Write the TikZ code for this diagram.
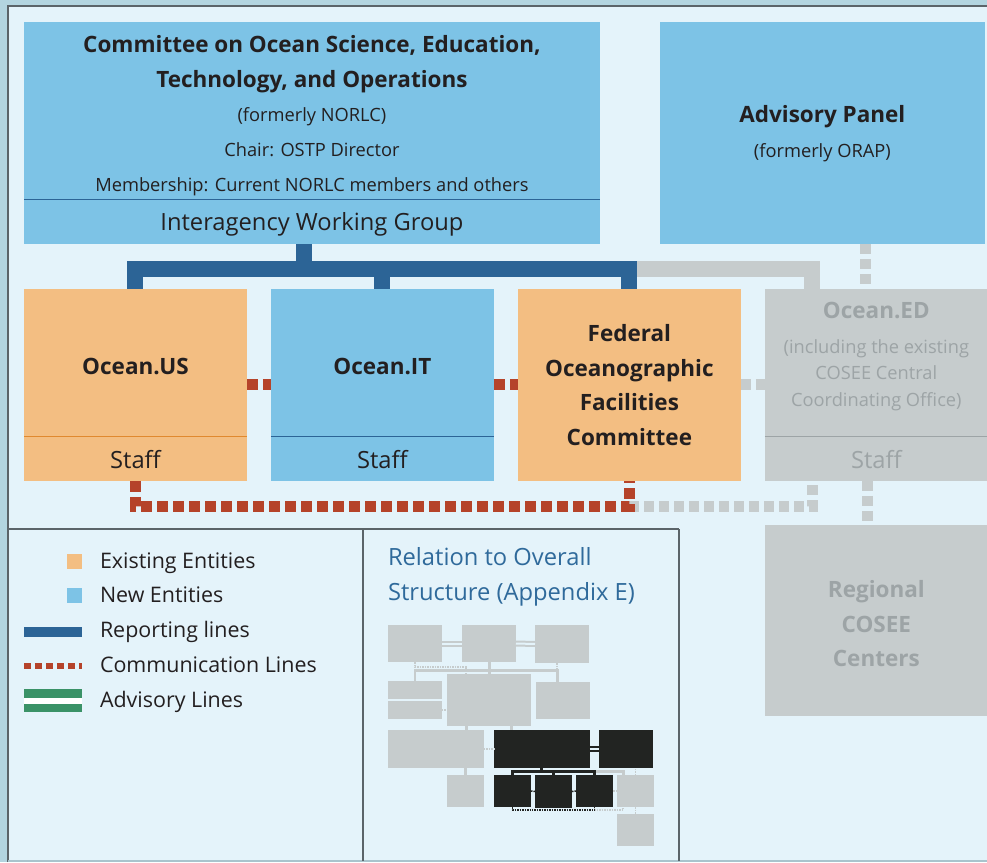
\documentclass[tikz,border=0pt]{standalone}
\usepackage{fontspec}
\setmainfont{Open Sans}
\usetikzlibrary{positioning}

\definecolor{paneledge}{HTML}{B3D5E0}
\definecolor{panelfill}{HTML}{E4F3FA}
\definecolor{newblue}{HTML}{7DC3E6}
\definecolor{oldorange}{HTML}{F3BE82}
\definecolor{oldline}{HTML}{E0892F}
\definecolor{latergray}{HTML}{C6CCCD}
\definecolor{latertext}{HTML}{9DA4A6}
\definecolor{reportblue}{HTML}{2C6496}
\definecolor{commred}{HTML}{B5432A}
\definecolor{advgreen}{HTML}{3A9267}
\definecolor{inkdark}{HTML}{231F20}
\definecolor{headblue}{HTML}{2F6A9B}
\definecolor{minidark}{HTML}{222422}
\definecolor{frameline}{HTML}{5B6469}

\begin{document}
\begin{tikzpicture}[x=0.02cm, y=-0.02cm, node distance=0.48cm,
    every node/.style={inner sep=0pt, outer sep=0pt, text=inkdark},
    entity/.style={rectangle, minimum width=4.46cm, minimum height=3.84cm},
    oldbox/.style={entity, fill=oldorange},
    newbox/.style={entity, fill=newblue},
    laterbox/.style={entity, fill=latergray, text=latertext},
    head/.style={font=\fontsize{12.8}{19.7}\selectfont\bfseries, align=center},
    note/.style={font=\fontsize{10.4}{19.8}\selectfont, align=center},
    staff/.style={font=\fontsize{13.5}{16}\selectfont},
    keytext/.style={font=\fontsize{12.2}{14}\selectfont, anchor=base west},
    report/.style={draw=reportblue, line width=0.32cm},
    reportlater/.style={draw=latergray, line width=0.32cm},
    talk/.style={draw=commred, line width=0.22cm, dash pattern=on 0.22cm off 0.1cm},
    talklater/.style={draw=latergray, line width=0.22cm, dash pattern=on 0.2cm off 0.1cm},
    minibox/.style={fill=latergray, anchor=north west},
    minikey/.style={fill=minidark, anchor=north west},
    minilink/.style={draw=latergray, line width=0.06cm},
    minilinkdark/.style={draw=minidark, line width=0.06cm},
    minidots/.style={draw=latergray, line width=0.03cm, dash pattern=on 0.03cm off 0.02cm},
    minidotsdark/.style={draw=minidark, line width=0.03cm, dash pattern=on 0.03cm off 0.02cm},
    minidouble/.style={draw=latergray, line width=0.04cm, double=panelfill, double distance=0.04cm},
    minidoubledark/.style={draw=minidark, line width=0.04cm, double=panelfill, double distance=0.04cm}]

    \useasboundingbox (0,0) rectangle (987,862);

    % panel and frame
    \fill[paneledge] (0,0) rectangle (987,862);
    \fill[panelfill] (8,6) rectangle (987,861);
    \draw[frameline, line width=1pt] (8,862) -- (8,6) -- (987,6);
    \draw[paneledge!80!gray, line width=0.8pt] (8,861) -- (987,861);

    % Top tier
    \node[fill=newblue, minimum width=11.52cm, minimum height=4.44cm, anchor=north west] (cosetc) at (24,22) {};
    \node[fill=newblue, minimum width=6.5cm, minimum height=4.44cm, right=1.2cm of cosetc.north east, anchor=north west] (adv) {};

    \node[head] (cosetchead) at ([yshift=-0.84cm]cosetc.north) {Committee on Ocean Science, Education,\\Technology, and Operations};
    \node[note] (cosetcnote) at ([yshift=-2.6cm]cosetc.north) {(formerly NORLC)\\Chair: OSTP Director\\Membership: Current NORLC members and others};
    \draw[reportblue, line width=0.6pt] ([yshift=0.88cm]cosetc.south west) -- ([yshift=0.88cm]cosetc.south east);
    \node[staff] (iwg) at ([yshift=0.4cm]cosetc.south) {Interagency Working Group};

    \node[head] (advhead) at ([yshift=0.32cm]adv.center) {Advisory Panel};
    \node[note] (advnote) at ([yshift=-0.4cm]adv.center) {(formerly ORAP)};

    % Second tier
    \node[oldbox, below=0.9cm of cosetc.south west, anchor=north west] (us) {};
    \node[newbox, right=of us] (it) {};
    \node[oldbox, right=of it, head] (fofc) {Federal\\Oceanographic\\Facilities\\Committee};
    \node[laterbox, right=of fofc] (ed) {};
    \node[laterbox, below=0.88cm of ed, minimum height=3.82cm] (rc) {};
    \node[head, text=latertext] (rchead) at ([yshift=-0.07cm]rc.center) {Regional\\COSEE\\Centers};

    \node[head] (ushead) at ([yshift=0.36cm]us.center) {Ocean.US};
    \draw[oldline, line width=0.6pt] ([yshift=0.88cm]us.south west) -- ([yshift=0.88cm]us.south east);
    \node[staff] (usstaff) at ([yshift=0.42cm]us.south) {Staff};

    \node[head] (ithead) at ([yshift=0.36cm]it.center) {Ocean.IT};
    \draw[reportblue, line width=0.6pt] ([yshift=0.88cm]it.south west) -- ([yshift=0.88cm]it.south east);
    \node[staff] (itstaff) at ([yshift=0.42cm]it.south) {Staff};

    \node[head, text=latertext] (edhead) at ([yshift=1.48cm]ed.center) {Ocean.ED};
    \node[note, text=latertext, font=\fontsize{10.4}{15}\selectfont] (ednote) at ([yshift=0.2cm]ed.center) {(including the existing\\COSEE Central\\Coordinating Office)};
    \draw[latertext, line width=0.6pt] ([yshift=0.88cm]ed.south west) -- ([yshift=0.88cm]ed.south east);
    \node[staff, text=latertext] (edstaff) at ([yshift=0.42cm]ed.south) {Staff};

    % Reporting lines
    \draw[reportlater] ([yshift=0.4cm]fofc.north) -| ([xshift=-1.28cm]ed.north);
    \draw[report] (us.north) -- ++(0,-20) -| (fofc.north);
    \draw[report] (it.north) -- ++(0,-20);
    \draw[report] ([xshift=-0.16cm]cosetc.south) -- ++(0,25);

    % Communication and advisory lines
    \draw[talk] (us.east) -- (it.west);
    \draw[talk] (it.east) -- (fofc.west);
    \draw[talklater] (fofc.east) -- (ed.west);
    \draw[talklater] ([yshift=-0.52cm]fofc.south) -| ([xshift=-1.28cm]ed.south);
    \draw[talk] (us.south) -- ++(0,26) -| (fofc.south);
    \draw[talklater] ([xshift=0.87cm]adv.south) -- ([xshift=0.87cm]adv.south |- ed.north);
    \draw[talklater] ([xshift=-0.17cm]ed.south) -- ([xshift=-0.17cm]rc.north);

    % Legend frames
    \draw[frameline, line width=0.7pt] (8,529) -- (679,529);
    \draw[frameline, line width=0.7pt] (363,529) -- (363,861);
    \draw[frameline, line width=0.7pt] (679,529) -- (679,861);

    % Legend keys
    \node[fill=oldorange, minimum size=0.3cm] (keyold) at (74.5,561.5) {};
    \node[fill=newblue, minimum size=0.3cm] (keynew) at (74.5,595) {};
    \draw[reportblue, line width=0.2cm] (24,632) -- (82,632);
    \draw[commred, line width=0.12cm, dash pattern=on 0.14cm off 0.08cm] (24,666) -- (82,666);
    \draw[advgreen, line width=0.17cm, double=white, double distance=0.12cm] (24,700.5) -- (82,700.5);

    \node[keytext] (oldtext) at (100,568) {Existing Entities};
    \node[keytext] (newtext) at (100,602) {New Entities};
    \node[keytext] (reptext) at (100,637) {Reporting lines};
    \node[keytext] (comtext) at (100,672) {Communication Lines};
    \node[keytext] (advtext) at (100,707) {Advisory Lines};

    \node[font=\fontsize{13.5}{19.4}\selectfont, text=headblue, align=left, anchor=base west] (relhead) at (388,600) {Relation to Overall\\Structure (Appendix E)};

    % Overall structure in small
    \node[minibox, minimum width=1.08cm, minimum height=0.74cm] (m1) at (388,625) {};
    \node[minibox, minimum width=1.08cm, minimum height=0.74cm] (m2) at (462,625) {};
    \node[minibox, minimum width=1.08cm, minimum height=0.76cm] (m3) at (535,625) {};
    \node[minibox, minimum width=1.08cm, minimum height=0.36cm] (m4) at (388,681) {};
    \node[minibox, minimum width=1.08cm, minimum height=0.36cm] (m5) at (388,701) {};
    \node[minibox, minimum width=1.68cm, minimum height=1.04cm] (m6) at (447,674) {};
    \node[minibox, minimum width=1.08cm, minimum height=0.74cm] (m7) at (536,682) {};
    \node[minibox, minimum width=1.92cm, minimum height=0.76cm] (m8) at (388,730) {};
    \node[minikey, minimum width=1.92cm, minimum height=0.76cm] (m9) at (494,730) {};
    \node[minikey, minimum width=1.08cm, minimum height=0.76cm] (m10) at (599,730) {};
    \node[minibox, minimum width=0.74cm, minimum height=0.64cm] (m11) at (447,775) {};
    \node[minikey, minimum width=0.74cm, minimum height=0.64cm] (m12) at (494,775) {};
    \node[minikey, minimum width=0.74cm, minimum height=0.66cm] (m13) at (535,775) {};
    \node[minikey, minimum width=0.74cm, minimum height=0.64cm] (m14) at (576,775) {};
    \node[minibox, minimum width=0.74cm, minimum height=0.64cm] (m15) at (617,775) {};
    \node[minibox, minimum width=0.74cm, minimum height=0.64cm] (m16) at (617,814) {};

    \draw[minidouble] (m1.east) -- (m2.west);
    \draw[minidouble] (m2.east) -- (m3.west);
    \draw[minilink] (m2.south) -- (m2.south |- m6.north);
    \draw[minilink] (m4.north) -- ++(0,-11) -| ([xshift=-0.12cm]m7.north);
    \draw[minidots] (m1.south) -- ++(0,5) -| ([xshift=0.38cm]m6.north west);
    \draw[minidots] ([xshift=-0.1cm]m3.south) -- ([xshift=-0.1cm]m3.south |- m7.north);
    \draw[minidots] (m5.east) -- (m5.east -| m6.west);
    \draw[minilink] ([xshift=0.38cm]m6.south west) -- ([xshift=0.38cm]m6.south west |- m8.north);
    \draw[minilink] ([xshift=1.3cm]m6.south west) -- ([xshift=1.3cm]m6.south west |- m9.north);
    \draw[minidots] (m8.east) -- (m9.west);
    \draw[minidoubledark] (m9.east) -- (m10.west);
    \draw[minilink] (m11.north) -- (m11.north |- m8.south);
    \draw[minilink] (m14.north) -- ++(0,-4) -| ([xshift=0.12cm]m15.north west);
    \draw[minilinkdark] (m12.north) -- ++(0,-4) -| (m14.north);
    \draw[minilinkdark] (m13.north) -- ++(0,-4);
    \draw[minilinkdark] (m9.south) -- ++(0,3);
    \draw[minidotsdark] (m12.east) -- (m13.west);
    \draw[minidotsdark] (m13.east) -- (m14.west);
    \draw[minidots] (m14.east) -- (m15.west);
    \draw[minidots] (m14.south) -- ++(0,3) -| ([xshift=0.12cm]m15.south west);
    \draw[minidotsdark] (m12.south) -- ++(0,3) -| (m14.south);
    \draw[minidots] (m15.north) -- (m15.north |- m10.south);
    \draw[minidots] (m15.south) -- (m16.north);

\end{tikzpicture}
\end{document}
